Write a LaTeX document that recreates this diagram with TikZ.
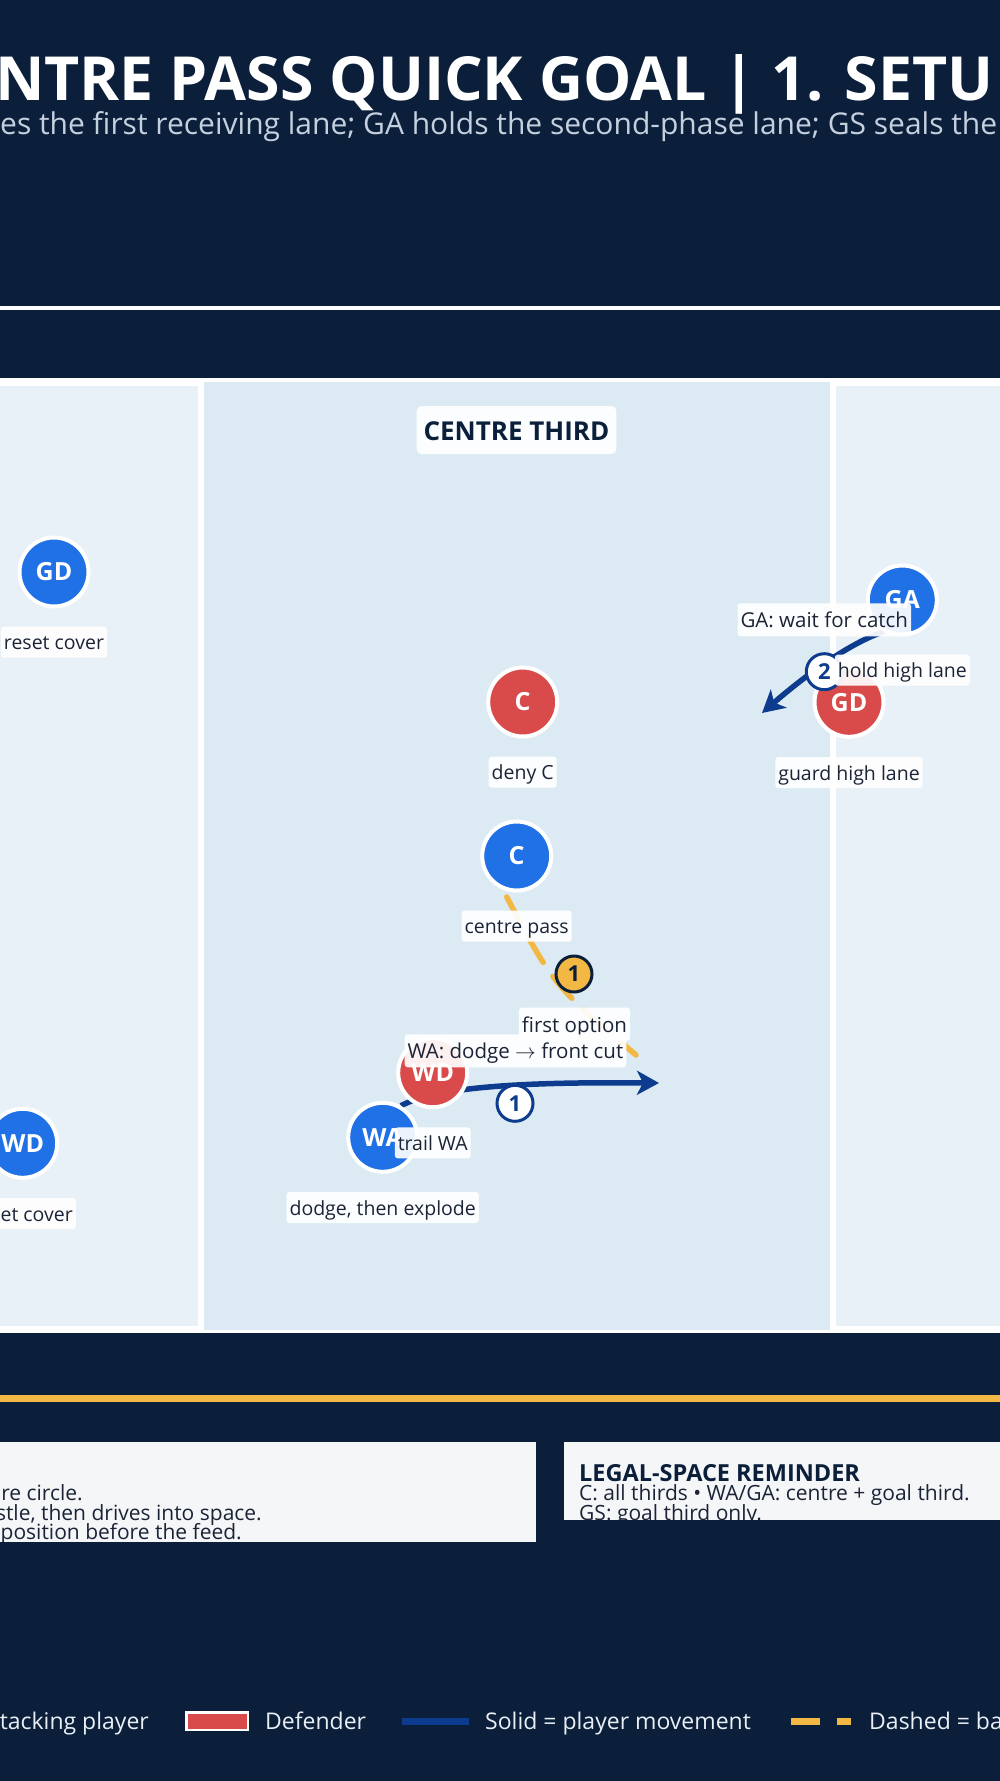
\documentclass[tikz,border=0pt]{standalone}
\usepackage{fontspec}
\setmainfont{Open Sans}
\usetikzlibrary{arrows.meta, positioning}

\definecolor{navybg}{HTML}{0B1F3A}
\definecolor{sidezone}{HTML}{E8F1F8}
\definecolor{midzone}{HTML}{DCEBF3}
\definecolor{attblue}{HTML}{2070E6}
\definecolor{defred}{HTML}{D94B4B}
\definecolor{runblue}{HTML}{0D3B8D}
\definecolor{passgold}{HTML}{F2B843}
\definecolor{tagink}{HTML}{1B2436}
\definecolor{subgrey}{HTML}{C5D0DF}
\definecolor{panelgrey}{HTML}{F4F6F8}
\definecolor{legendink}{HTML}{EAEFF6}

\pgfdeclarelayer{pitch}
\pgfdeclarelayer{moves}
\pgfsetlayers{pitch,moves,main}

\newcommand{\px}[1]{\fontsize{#1}{#1}\selectfont}

\tikzset{
	player/.style={circle, minimum size=69pt, inner sep=0pt, line width=4pt, draw=white, text=white, font=\bfseries\px{25}},
	attack/.style={player, fill=attblue},
	defend/.style={player, fill=defred},
	tag/.style={fill=white, fill opacity=0.92, text opacity=1, rounded corners=3pt, text=tagink, inner xsep=3pt, inner ysep=3pt, text height=20pt, text depth=5pt, font=\px{19.5}},
	cue/.style={tag, text height=21.5pt, text depth=5.5pt, font=\px{20.5}},
	zonetag/.style={fill=white, fill opacity=0.92, text opacity=1, rounded corners=5pt, text=navybg, inner xsep=7pt, inner ysep=8pt, text height=26pt, text depth=6pt, font=\bfseries\px{26}},
	stepmark/.style={circle, minimum size=36pt, inner sep=0pt, line width=3pt, font=\bfseries\px{22}},
	runmark/.style={stepmark, fill=white, draw=runblue, text=runblue},
	passmark/.style={stepmark, fill=passgold, draw=navybg, text=navybg},
	run/.style={draw=runblue, line width=5.5pt, -{Stealth[length=22pt, width=24pt, inset=6pt]}},
	pass/.style={draw=passgold, line width=5.5pt, line cap=round, dash pattern=on 29pt off 17pt, dash phase=38pt},
	panelline/.style={anchor=base west, inner sep=0pt, text=tagink, font=\px{21}},
	legendtext/.style={anchor=base west, inner sep=0pt, text=legendink, font=\px{23}},
	swatch/.style={fill=defred, draw=white, line width=2.5pt, minimum width=61.5pt, minimum height=17.5pt, inner sep=0pt, outer sep=0pt},
}

\begin{document}
\begin{tikzpicture}[x=1pt, y=-1pt]
	\def\W{1000}
	\def\H{1781}
	\useasboundingbox (0,0) rectangle (\W,\H);

	% ground, court and panels
	\begin{pgfonlayer}{pitch}
		\fill[navybg] (0,0) rectangle (\W,\H);
		\fill[white] (-5,305.5) rectangle (1005,310);% header rule
		\fill[white] (-5,378) rectangle (1005,1333);
		\fill[sidezone] (-5,386) rectangle (198,1325.7);
		\fill[midzone] (204,382) rectangle (830,1330);
		\fill[sidezone] (836,386) rectangle (1005,1325.7);
		\fill[passgold] (-5,1395) rectangle (1005,1402);% gold rule
		\fill[panelgrey] (-5,1442) rectangle (535.7,1541.7);
		\fill[panelgrey] (564,1442) rectangle (1005,1520);
	\end{pgfonlayer}

	% header
	\node[anchor=base west, inner sep=0pt, text=white, font=\bfseries\px{60.8}] (title) at (-5,100) {NTRE PASS QUICK GOAL | 1. SETU};
	\node[anchor=base west, inner sep=0pt, text=subgrey, font=\px{30}] (subtitle) at (0,134) {es the first receiving lane; GA holds the second-phase lane; GS seals the};

	\node[zonetag] (zone) at (516.5,430) {CENTRE THIRD};

	% draw players
	\foreach \id/\side/\x/\y/\lbl in {gdAtt/attack/54/572/GD, wdAtt/attack/22.7/1143.3/WD, cDef/defend/522.7/702/C, gaAtt/attack/902.3/600/GA, gdDef/defend/849/702.3/GD, cAtt/attack/516.7/856/C, wdDef/defend/432.7/1072.7/WD, waAtt/attack/382.7/1137.3/WA} {
		\node[\side] (\id) at (\x,\y) {\lbl};
	}

	% step markers
	\node[runmark] (gaStep) at (824.3,671.7) {2};
	\node[passmark] (passStep) at (574,974) {1};
	\node[runmark] (waStep) at (515,1103.3) {1};

	% draw role tags under the players
	\foreach \id/\txt in {gdAtt/reset cover, cDef/deny C, gdDef/guard high lane, cAtt/centre pass, waAtt/{dodge, then explode}, gaAtt/hold high lane, wdDef/trail WA} {
		\node[tag, below=18pt of \id] (\id-tag) {\txt};
	}
	\node[tag, anchor=north east] (wdAtt-tag) at (76,1198) {et cover};

	% draw cue tags on the moves
	\node[cue] (gaCue) at (824.3,619.8) {GA: wait for catch};
	\node[cue] (passCue) at (574.5,1024.2) {first option};
	\node[cue] (waCue) at (515.5,1050.8) {WA: dodge $\rightarrow$ front cut};

	% moves, kept under the players
	\coordinate (gaTo) at (762,713);
	\coordinate (waTo) at (659,1083);
	\coordinate (passTo) at (636,1055);
	\begin{pgfonlayer}{moves}
		\draw[run] (gaAtt.240) .. controls (855,641) and (814,668) .. (gaTo);
		\draw[run] (waAtt.60) .. controls (440,1085) and (540,1082) .. (waTo);
		\draw[pass] (cAtt.248) .. controls (553,985) .. (passTo);
	\end{pgfonlayer}

	% panel texts
	\begin{scope}
		\clip (-5,1442) rectangle (535.7,1541.7);
		\node[panelline, anchor=base east] (noteA) at (83,1500) {re circle.};
		\node[panelline, anchor=base east] (noteB) at (262,1520) {stle, then drives into space.};
		\node[panelline, anchor=base east] (noteC) at (242,1539) {position before the feed.};
	\end{scope}
	\begin{scope}
		\clip (564,1442) rectangle (1005,1520);
		\node[panelline, text=navybg, font=\bfseries\px{23.5}] (legalHead) at (579,1481.7) {LEGAL-SPACE REMINDER};
		\node[panelline] (legalA) at (579,1500) {C: all thirds • WA/GA: centre + goal third.};
		\node[panelline] (legalB) at (579,1520) {GS: goal third only.};
	\end{scope}

	% legend
	\coordinate (runKeyA) at (402,1721.5);
	\coordinate (runKeyB) at (469,1721.5);
	\coordinate (passKeyA) at (791,1721.5);
	\coordinate (passKeyB) at (851,1721.5);
	\node[legendtext, anchor=base east] (attKeyText) at (149,1729) {tacking player};
	\node[swatch] (defKey) at (217,1721) {};
	\node[legendtext] (defKeyText) at (265,1729) {Defender};
	\draw[runblue, line width=7pt] (runKeyA) -- (runKeyB);
	\node[legendtext] (runKeyText) at (485,1729) {Solid = player movement};
	\draw[passgold, line width=7pt, dash pattern=on 29pt off 17pt] (passKeyA) -- (passKeyB);
	\node[legendtext] (passKeyText) at (869,1729) {Dashed = ba};
\end{tikzpicture}
\end{document}
